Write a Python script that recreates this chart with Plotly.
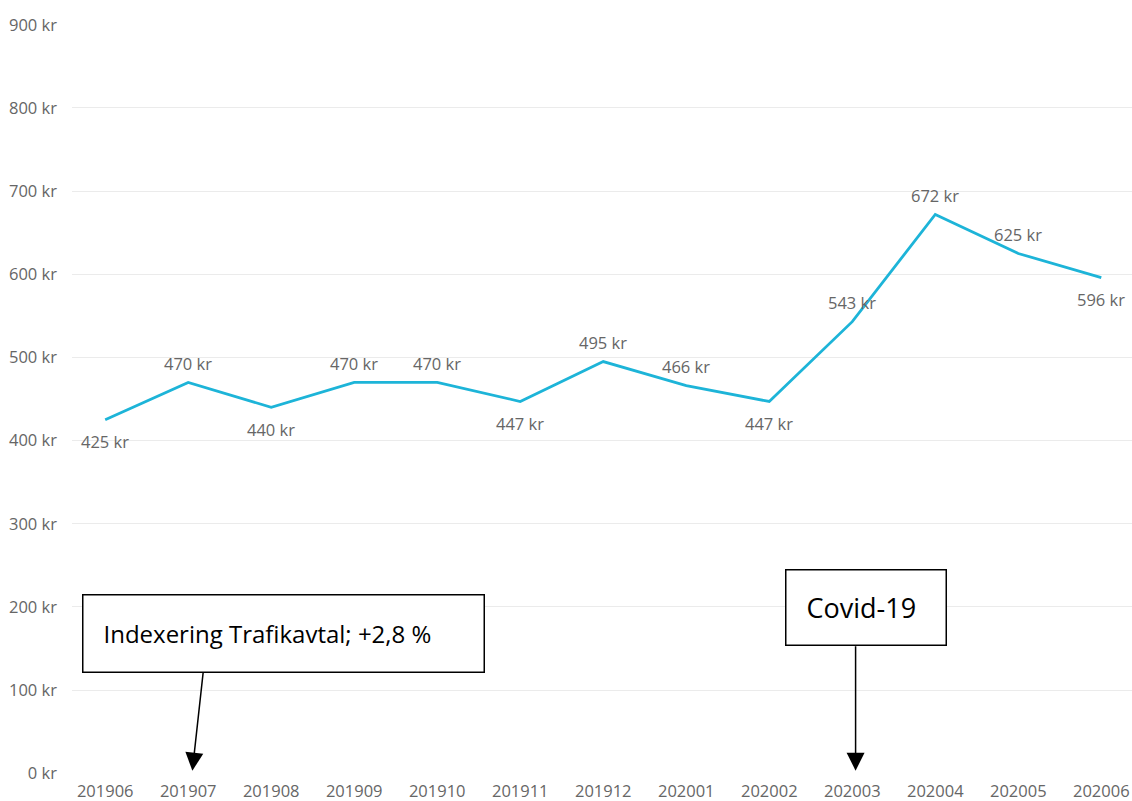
import plotly.graph_objects as go

months = ["201906", "201907", "201908", "201909", "201910", "201911", "201912",
          "202001", "202002", "202003", "202004", "202005", "202006"]
values = [425, 470, 440, 470, 470, 447, 495, 466, 447, 543, 672, 625, 596]
label_above = [False, True, False, True, True, False, True, True, False, True, True, True, False]
y_ticks = [0, 100, 200, 300, 400, 500, 600, 700, 800, 900]
y_tick_text = [f"{v} kr" for v in y_ticks]

x_idx = list(range(len(months)))

fig = go.Figure()
fig.add_trace(go.Scatter(
    x=x_idx, y=values, mode="lines",
    line=dict(color="#1DB4D8", width=2.8),
    hoverinfo="skip", showlegend=False,
))

label_font = dict(family="Open Sans", size=16.5, color="#666666")
for xi, v, above in zip(x_idx, values, label_above):
    fig.add_annotation(x=xi, y=v, xref="x", yref="y", text=f"{v} kr", showarrow=False,
                       font=label_font, yshift=19 if above else -22, yanchor="middle")

fig.add_annotation(x=-0.277, y=216, xref="x", yref="y", xanchor="left", yanchor="top",
                   text="Indexering Trafikavtal; +2,8 %", showarrow=False,
                   font=dict(family="Open Sans", size=24, color="#000000"),
                   align="left", width=360, height=36, bordercolor="#000000", borderwidth=1.5,
                   borderpad=20, bgcolor="#ffffff", valign="middle")
fig.add_annotation(x=1.05, y=3, xref="x", yref="y", text="", showarrow=True,
                   ax=11, ay=-100, axref="pixel", ayref="pixel", arrowhead=2, arrowsize=2.4,
                   arrowwidth=1.5, arrowcolor="#000000")
fig.add_annotation(x=8.19, y=245, xref="x", yref="y", xanchor="left", yanchor="top",
                   text="Covid-19", showarrow=False,
                   font=dict(family="Open Sans", size=27, color="#000000"),
                   align="left", width=119, height=34, bordercolor="#000000", borderwidth=1.5,
                   borderpad=20, bgcolor="#ffffff", valign="middle")
fig.add_annotation(x=9.04, y=3, xref="x", yref="y", text="", showarrow=True,
                   ax=0, ay=-126, axref="pixel", ayref="pixel", arrowhead=2, arrowsize=2.4,
                   arrowwidth=1.5, arrowcolor="#000000")

fig.update_layout(
    width=1132, height=801, margin=dict(l=72, r=0, t=24, b=27, autoexpand=False),
    paper_bgcolor="#ffffff", plot_bgcolor="#ffffff",
    font=dict(family="Open Sans", size=16.5, color="#666666"),
)
fig.update_xaxes(tickmode="array", tickvals=x_idx, ticktext=months,
                 range=[-0.4, 12.37], showgrid=False, zeroline=False, showline=False,
                 ticks="", automargin=False, ticklabelstandoff=5,
                 tickfont=dict(family="Open Sans", size=16.5, color="#666666"))
fig.update_yaxes(tickmode="array", tickvals=y_ticks, ticktext=y_tick_text, range=[-1, 901],
                 showgrid=True, gridcolor="#ebebeb", gridwidth=1, zeroline=False,
                 showline=False, ticks="", ticklabelstandoff=14, automargin=False,
                 tickfont=dict(family="Open Sans", size=16.5, color="#666666"))

fig.write_html("out.html", config={"displayModeBar": False},
               post_script="document.body.style.margin='0px';document.body.style.overflow='hidden';")
